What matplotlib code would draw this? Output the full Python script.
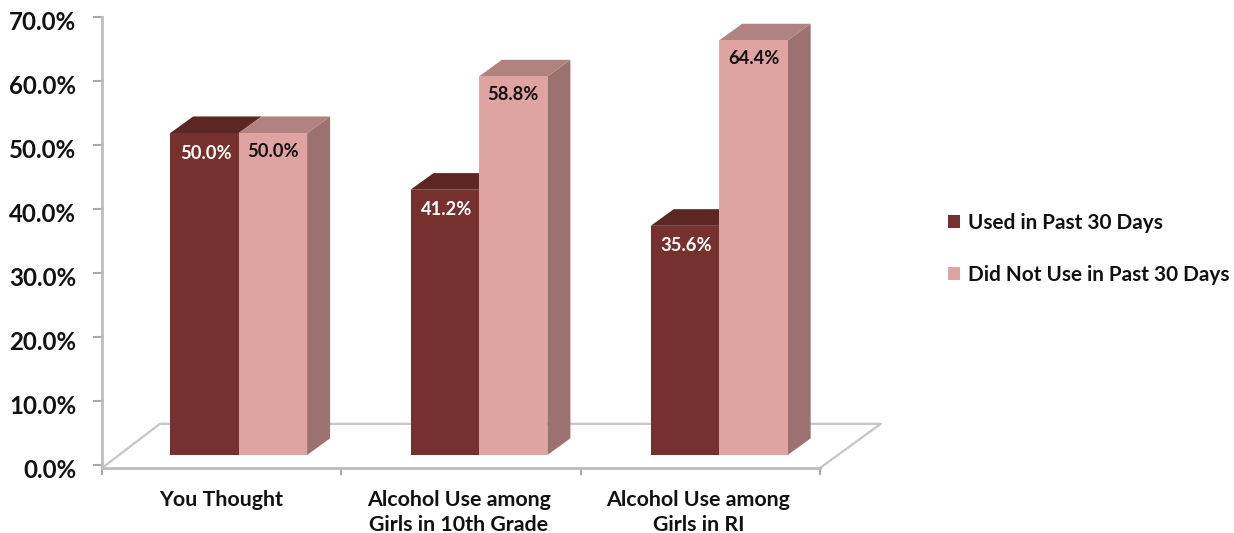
import matplotlib
matplotlib.use("Agg")
import matplotlib.pyplot as plt
from matplotlib.patches import Patch
from matplotlib.transforms import ScaledTranslation
import numpy as np

categories = ["You Thought", "Alcohol Use among\nGirls in 10th Grade", "Alcohol Use among\nGirls in RI"]
used = [50.0, 41.2, 35.6]
not_used = [50.0, 58.8, 64.4]
series_names = ["Used in Past 30 Days", "Did Not Use in Past 30 Days"]
y_ticks = [0, 10, 20, 30, 40, 50, 60, 70]

DARK = "#76302e"
DARK_TOP = "#5c2723"
LIGHT = "#dfa4a2"
LIGHT_TOP = "#b08381"
LIGHT_SIDE = "#9c7270"
AXIS = "#bdbdbd"

W, H = 1234, 533
plt.rcParams["font.family"] = ["Lato", "DejaVu Sans"]
plt.rcParams["font.weight"] = "bold"

fig = plt.figure(figsize=(W / 100, H / 100), dpi=100)
ax = fig.add_axes([102 / W, (H - 468) / H, 718 / W, 451 / H])
ax.set_xlim(0, 3)
ax.set_ylim(-0.47, 70)

# sizes of the fake 3d look, in data units
bar_w = 0.286
base = 1.56
depth_x = 0.096
depth_y = 2.6
floor_x = 0.242
floor_y = 6.9
scale = 1.006

# floor outline
ax.plot([0, floor_x, 3 + floor_x + 0.012, 3], [-0.47, floor_y - 0.47, floor_y - 0.47, -0.47],
        color="#c6c6c6", lw=1.6, clip_on=False, zorder=1)


def draw_bar(x, val, front, top, side=None):
    y1 = base + val * scale
    if side is not None:
        ax.fill([x + bar_w, x + bar_w + depth_x, x + bar_w + depth_x, x + bar_w],
                [base, base + depth_y, y1 + depth_y, y1], color=side, lw=0, clip_on=False, zorder=2)
    ax.fill([x, x + depth_x, x + bar_w + depth_x, x + bar_w],
            [y1, y1 + depth_y, y1 + depth_y, y1], color=top, lw=0, clip_on=False, zorder=2)
    ax.bar(x, val * scale, bar_w, bottom=base, align="edge", color=front, lw=0, zorder=3)


for i in range(len(categories)):
    x0 = 0.285 + i * 1.004
    draw_bar(x0, used[i], DARK, DARK_TOP)
    draw_bar(x0 + bar_w, not_used[i], LIGHT, LIGHT_TOP, LIGHT_SIDE)
    ax.annotate("%.1f%%" % used[i], (x0 + bar_w / 2, base + used[i] * scale), xytext=(1.5, -20),
                textcoords="offset pixels", ha="center", va="center", color="white", fontsize=13.2, zorder=5)
    ax.annotate("%.1f%%" % not_used[i], (x0 + 1.5 * bar_w, base + not_used[i] * scale), xytext=(0, -18),
                textcoords="offset pixels", ha="center", va="center", color="#111111", fontsize=13.2, zorder=5)

for s in ["top", "right"]:
    ax.spines[s].set_visible(False)
for s in ["left", "bottom"]:
    ax.spines[s].set_color(AXIS)
    ax.spines[s].set_linewidth(2)

ax.set_yticks(y_ticks)
ax.set_yticklabels(["%.1f%%" % v for v in y_ticks], fontsize=17.3, color="#111111")
ax.tick_params(axis="y", length=6.5, width=1.5, color="#a8a8a8", pad=12)
# the labels sit a little under their ticks in the original
for lab in ax.get_yticklabels():
    lab.set_transform(lab.get_transform() + ScaledTranslation(0, -4 / 100, fig.dpi_scale_trans))

ax.set_xticks([0, 1, 2, 3])
ax.set_xticklabels([])
ax.set_xticks(np.arange(len(categories)) + 0.5, minor=True)
ax.set_xticklabels(categories, minor=True, fontsize=15.4, color="#111111", linespacing=1.34)
ax.tick_params(axis="x", which="major", length=5, width=1.5, color="#a8a8a8")
ax.tick_params(axis="x", which="minor", length=0, pad=15.5)
for lab, dx in zip(ax.get_xticklabels(minor=True), [-1, -2, -2]):
    lab.set_transform(lab.get_transform() + ScaledTranslation(dx / 100, 0, fig.dpi_scale_trans))

handles = [Patch(facecolor=DARK), Patch(facecolor=LIGHT)]
ax.legend(handles, series_names, loc="center left", bbox_to_anchor=(948 / W, (H - 249) / H),
          bbox_transform=fig.transFigure, frameon=False, fontsize=14.95, labelcolor="#111111",
          handlelength=0.6, handleheight=0.6, handletextpad=0.35, labelspacing=1.55,
          borderpad=0, borderaxespad=0)

fig.savefig("out.png", dpi=100)
